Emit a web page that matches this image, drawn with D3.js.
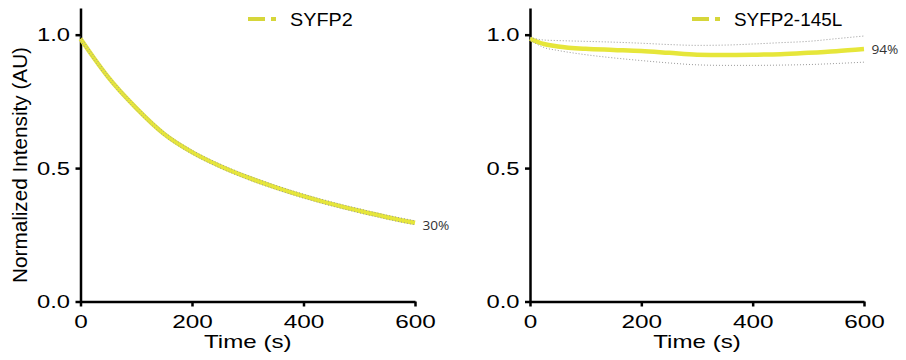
<!DOCTYPE html>
<html>
<head>
<meta charset="utf-8">
<script src="https://cdn.jsdelivr.net/npm/d3@7"></script>
<style>
  body { margin: 0; background: #fff; }
  svg { display: block; }
  .axis path, .axis line { stroke: #000; stroke-width: 2.5; }
  .axis text { font-family: "Liberation Sans", Arial, sans-serif; font-size: 19px; fill: #000; }
</style>
</head>
<body>
<svg id="chart" width="906" height="360"></svg>
<script>
// Time points (s)
const times = [0, 25, 50, 100, 150, 200, 250, 300, 350, 400, 450, 500, 550, 600];

// SYFP2 bleaching curve, mean and SD band
const syfp2Mean = [0.985, 0.91, 0.84, 0.725, 0.628, 0.56, 0.508, 0.465, 0.428, 0.395, 0.366, 0.34, 0.316, 0.295];
const syfp2Upper = syfp2Mean.map(v => v + 0.0075);
const syfp2Lower = syfp2Mean.map(v => v - 0.0075);

// SYFP2-145L
const l145Mean = [0.985, 0.965, 0.956, 0.947, 0.943, 0.939, 0.932, 0.925, 0.924, 0.925, 0.927, 0.932, 0.938, 0.946];
const l145Upper = [0.99, 0.98, 0.978, 0.975, 0.972, 0.968, 0.963, 0.96, 0.961, 0.965, 0.97, 0.975, 0.985, 0.995];
const l145Lower = [0.98, 0.952, 0.941, 0.925, 0.913, 0.903, 0.894, 0.887, 0.885, 0.885, 0.886, 0.888, 0.892, 0.897];

const xTicks = [0, 200, 400, 600];
const yTicks = [0, 0.5, 1.0];

const panels = [
  { name: 'SYFP2', mean: syfp2Mean, upper: syfp2Upper, lower: syfp2Lower, label: '30%', labelDy: 7, x0: 80.5, x1: 415, legendX: 248, legendStretch: 1.1, showYLabel: true },
  { name: 'SYFP2-145L', mean: l145Mean, upper: l145Upper, lower: l145Lower, label: '94%', labelDy: 5, x0: 530, x1: 864, legendX: 692, legendStretch: 1.05, showYLabel: false }
];

const svg = d3.select('#chart');
const yTop = 8, yBottom = 301.5;
const yellow = '#e6e63a';

// the reference text is wider than plain Arial, widen glyphs to match
function stretch(sel, factor) {
  sel.each(function () {
    const len = this.getComputedTextLength();
    d3.select(this).attr('textLength', len * factor).attr('lengthAdjust', 'spacingAndGlyphs');
  });
}

panels.forEach((p) => {
  const x = d3.scaleLinear().domain([0, 600]).range([p.x0, p.x1]);
  const y = d3.scaleLinear().domain([0, 1.1]).range([yBottom, yTop]);

  const g = svg.append('g');

  // x axis
  g.append('g')
    .attr('class', 'axis')
    .attr('transform', `translate(0,${yBottom})`)
    .call(d3.axisBottom(x).tickValues(xTicks).tickSize(5).tickSizeOuter(0).tickPadding(6))
    .call(a => a.selectAll('text').attr('dy', '0.82em').call(stretch, 1.28));

  // y axis
  g.append('g')
    .attr('class', 'axis')
    .attr('transform', `translate(${p.x0},0)`)
    .call(d3.axisLeft(y).tickValues(yTicks).tickFormat(d3.format('.1f')).tickSize(5).tickSizeOuter(0).tickPadding(5.5))
    .call(a => a.selectAll('text').call(stretch, 1.25));

  const line = (vals) => d3.line()
    .x((d, i) => x(times[i]))
    .y(d => y(d))
    .curve(d3.curveMonotoneX)(vals);

  // mean curve
  g.append('path')
    .attr('d', line(p.mean))
    .attr('fill', 'none')
    .attr('stroke', yellow)
    .attr('stroke-width', 4.5);

  // SD band edges, dotted
  [p.upper, p.lower].forEach(vals => {
    g.append('path')
      .attr('d', line(vals))
      .attr('fill', 'none')
      .attr('stroke', '#999')
      .attr('stroke-width', 1)
      .attr('stroke-dasharray', '1,2');
  });

  // end label
  g.append('text')
    .attr('x', x(600) + 7.5)
    .attr('y', y(p.mean[p.mean.length - 1]) + p.labelDy)
    .style('font-family', '"Open Sans", "DejaVu Sans", sans-serif')
    .style('font-size', '13px')
    .style('fill', '#333')
    .text(p.label)
    .call(stretch, 1.05);

  // legend
  const lg = g.append('g').attr('transform', `translate(${p.legendX},19)`);
  lg.append('line').attr('x1', 0).attr('x2', 17).attr('y1', 0).attr('y2', 0)
    .attr('stroke', '#d6d63a').attr('stroke-width', 4);
  lg.append('line').attr('x1', 23).attr('x2', 28).attr('y1', 0).attr('y2', 0)
    .attr('stroke', '#d6d63a').attr('stroke-width', 4);
  lg.append('text')
    .attr('x', 42)
    .attr('y', 6.5)
    .style('font-family', '"Liberation Sans", Arial, sans-serif')
    .style('font-size', '18px')
    .text(p.name)
    .call(stretch, p.legendStretch);

  // x axis title
  g.append('text')
    .attr('x', (p.x0 + p.x1) / 2)
    .attr('y', 348)
    .attr('text-anchor', 'middle')
    .style('font-family', '"Liberation Sans", Arial, sans-serif')
    .style('font-size', '19px')
    .text('Time (s)')
    .call(stretch, 1.27);

  if (p.showYLabel) {
    g.append('text')
      .attr('transform', `translate(27,165) rotate(-90)`)
      .attr('text-anchor', 'middle')
      .attr('textLength', 236)
      .attr('lengthAdjust', 'spacingAndGlyphs')
      .style('font-family', '"Liberation Sans", Arial, sans-serif')
      .style('font-size', '20px')
      .text('Normalized Intensity (AU)');
  }
});
</script>
</body>
</html>
